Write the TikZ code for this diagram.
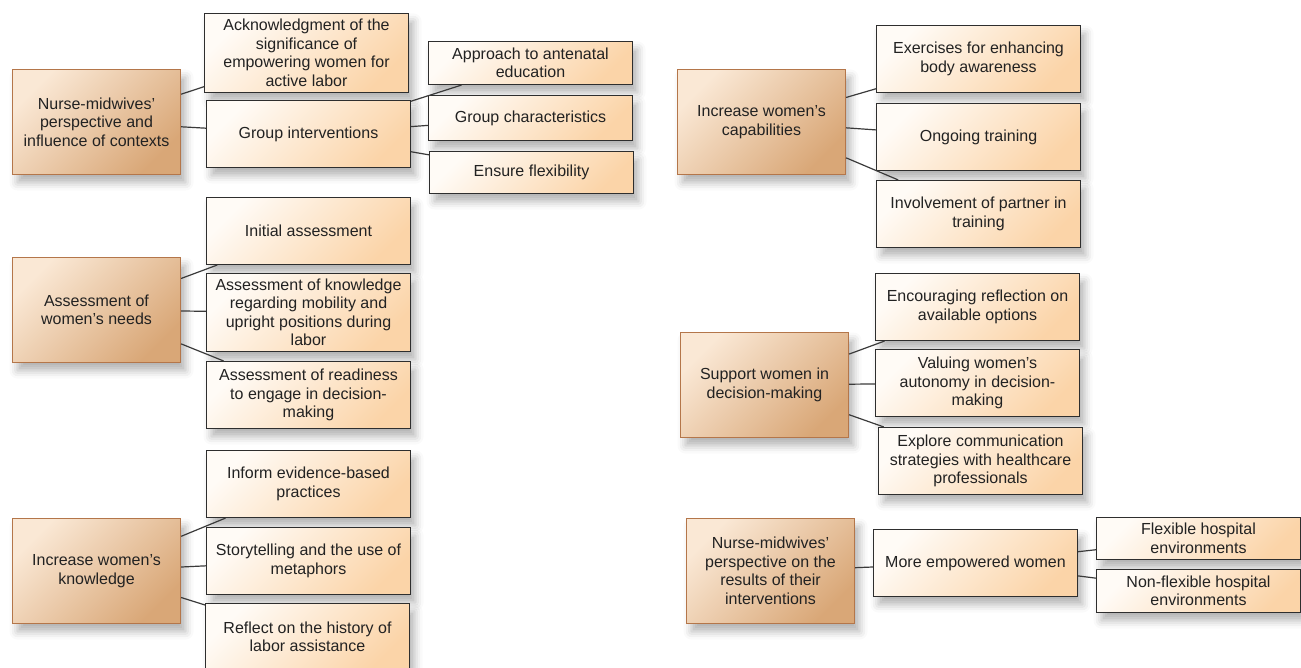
\documentclass[tikz,border=0pt]{standalone}
\usepackage{fontspec}
\setmainfont{Liberation Sans}
\usetikzlibrary{shadows.blur}

\definecolor{mainlight}{HTML}{FAE8D5}
\definecolor{mainmid}{HTML}{F1D5B8}
\definecolor{maindark}{HTML}{D9A777}
\definecolor{mainedge}{HTML}{B4764A}
\definecolor{sublight}{HTML}{FFFBF6}
\definecolor{submid}{HTML}{FFF3E6}
\definecolor{subdark}{HTML}{FBD4A8}
\definecolor{subedge}{HTML}{2E2E2E}
\definecolor{linkgray}{HTML}{3A3A3A}
\definecolor{textgray}{HTML}{222222}

\begin{document}
\begin{tikzpicture}[x=1pt,y=-1pt,
    box/.style={rectangle, align=center, inner sep=2pt, text=textgray,
        font=\fontsize{16}{18.5}\selectfont,
        blur shadow={shadow xshift=5pt, shadow yshift=-8pt,
            shadow blur radius=8pt, shadow opacity=30}},
    mainbox/.style={box, draw=mainedge, line width=1.2pt,
        minimum width=168pt, minimum height=105pt,
        top color=mainlight, middle color=mainmid, bottom color=maindark,
        shading angle=45},
    subbox/.style={box, draw=subedge, line width=1.1pt,
        minimum width=204pt, minimum height=67pt,
        top color=sublight, middle color=submid, bottom color=subdark,
        shading angle=45},
    link/.style={draw=linkgray, line width=1.2pt}]
    \useasboundingbox (0,0) rectangle (1301,668);

    % themes
    \node[mainbox] (ctx) at (96.5,122) {Nurse-midwives’\\perspective and\\influence of contexts};
    \node[mainbox] (needs) at (96.5,310) {Assessment of\\women’s needs};
    \node[mainbox] (know) at (96.5,571) {Increase women’s\\knowledge};
    \node[mainbox] (capab) at (761.5,122) {Increase women’s\\capabilities};
    \node[mainbox] (decide) at (764.5,385) {Support women in\\decision-making};
    \node[mainbox] (result) at (770.5,571) {Nurse-midwives’\\perspective on the\\results of their\\interventions};

    % contexts
    \node[subbox, minimum height=79pt] (ack) at (306.5,53) {Acknowledgment of the\\significance of\\empowering women for\\active labor};
    \node[subbox] (group) at (308.5,134) {Group interventions};
    \node[subbox, minimum height=43pt] (antenatal) at (530.5,63) {Approach to antenatal\\education};
    \node[subbox, minimum height=45pt] (grpchar) at (530.5,118) {Group characteristics};
    \node[subbox, minimum height=42pt] (flex) at (531.5,172.5) {Ensure flexibility};

    % needs
    \node[subbox] (initial) at (308.5,231) {Initial assessment};
    \node[subbox, minimum height=78pt] (mobility) at (308.5,312.5) {Assessment of knowledge\\regarding mobility and\\upright positions during\\labor};
    \node[subbox] (readiness) at (308.5,395) {Assessment of readiness\\to engage in decision-\\making};

    % knowledge
    \node[subbox] (evidence) at (308.5,484) {Inform evidence-based\\practices};
    \node[subbox] (story) at (308.5,561) {Storytelling and the use of\\metaphors};
    \node[subbox] (history) at (307.5,637) {Reflect on the history of\\labor assistance};

    % capabilities
    \node[subbox] (body) at (978.5,59) {Exercises for enhancing\\body awareness};
    \node[subbox] (ongoing) at (978.5,137) {Ongoing training};
    \node[subbox] (partner) at (978.5,214) {Involvement of partner in\\training};

    % decision-making
    \node[subbox] (options) at (977.5,307) {Encouraging reflection on\\available options};
    \node[subbox] (autonomy) at (977.5,383) {Valuing women’s\\autonomy in decision-\\making};
    \node[subbox] (comm) at (980.5,461) {Explore communication\\strategies with healthcare\\professionals};

    % results
    \node[subbox] (empower) at (975.5,563) {More empowered women};
    \node[subbox, minimum height=42pt] (flexhosp) at (1198.5,538.5) {Flexible hospital\\environments};
    \node[subbox, minimum height=43pt] (rigidhosp) at (1198.5,591) {Non-flexible hospital\\environments};

    % connectors
    \draw[link] (ctx) -- (ack);
    \draw[link] (ctx) -- (group);
    \draw[link] (group) -- (antenatal);
    \draw[link] (group) -- (grpchar);
    \draw[link] (group) -- (flex);
    \draw[link] (needs) -- (initial);
    \draw[link] (needs) -- (mobility);
    \draw[link] (needs) -- (readiness);
    \draw[link] (know) -- (evidence);
    \draw[link] (know) -- (story);
    \draw[link] (know) -- (history);
    \draw[link] (capab) -- (body);
    \draw[link] (capab) -- (ongoing);
    \draw[link] (capab) -- (partner);
    \draw[link] (decide) -- (options);
    \draw[link] (decide) -- (autonomy);
    \draw[link] (decide) -- (comm);
    \draw[link] (result) -- (empower);
    \draw[link] (empower) -- (flexhosp);
    \draw[link] (empower) -- (rigidhosp);
\end{tikzpicture}
\end{document}
